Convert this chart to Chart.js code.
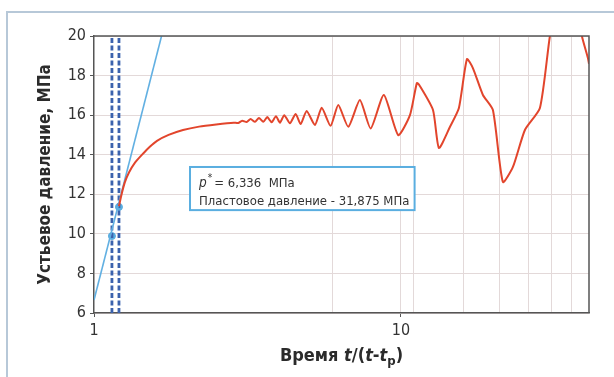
<!DOCTYPE html>
<html>
<head>
<meta charset="utf-8">
<script src="https://cdn.jsdelivr.net/npm/chart.js@4"></script>
<style>
  body { margin: 0; background: #fff; }
</style>
</head>
<body>
<canvas id="myChart" width="614" height="377"></canvas>
<script>
// устьевое давление vs время Хорнера
const timeX = [1.206, 1.23, 1.26, 1.30, 1.36, 1.444, 1.52, 1.604, 1.75, 1.95, 2.2, 2.5, 2.85, 2.95,
  3.04, 3.143, 3.238, 3.345, 3.447, 3.561, 3.669, 3.791, 3.916, 4.036, 4.168, 4.348, 4.54, 4.713,
  4.93, 5.247, 5.52, 5.90, 6.25, 6.74, 7.35, 7.97, 8.80, 9.80, 10.70, 11.27, 11.5, 12.72, 13.30,
  14.44, 15.45, 16.41, 17.16, 18.50, 19.94, 21.49, 23.17, 25.35, 28.37, 30.58, 32.5, 35, 37.5,
  38.87, 40.65, 41];
const pressure = [11.4, 12.0, 12.6, 13.1, 13.6, 14.05, 14.4, 14.7, 15.0, 15.25, 15.42, 15.53, 15.62, 15.60,
  15.72, 15.65, 15.80, 15.66, 15.86, 15.66, 15.90, 15.64, 15.95, 15.62, 16.0, 15.59, 16.06, 15.55,
  16.21, 15.50, 16.37, 15.46, 16.51, 15.41, 16.76, 15.33, 17.02, 14.99, 16.0, 17.62, 17.5, 16.26, 14.34,
  15.40, 16.36, 18.83, 18.38, 17.02, 16.26, 12.62, 13.38, 15.25, 16.36, 20.0, 22, 22.5, 21.5,
  20, 18.9, 18.6];

// касательная и точки
const tangentX = [1, 1.66];
const tangentY = [6.66, 20];
const markX = [1.144, 1.206];
const markY = [9.89, 11.36];

// оси
const xMin = 1, xMax = 41;
const yMin = 6, yMax = 20, yStep = 2;
const xGridValues = [1, 6, 10, 11, 16, 21, 26, 31, 36];
const xLabelValues = [1, 10];

const pStar = '6,336';
const plastP = '31,875';

const narrow = "'Liberation Sans Narrow', 'DejaVu Sans Condensed', sans-serif";

const zip = (xs, ys) => xs.map((x, i) => ({x: x, y: ys[i]}));

const dashSets = markX.map(x => ({
  data: [{x: x, y: yMin}, {x: x, y: yMax}],
  borderColor: '#3b62ad',
  borderWidth: 2.8,
  borderDash: [5, 2.5],
  pointRadius: 0,
  clip: 0
}));

const extras = {
  id: 'extras',
  beforeDraw(chart) {
    const c = chart.ctx;
    c.save();
    c.strokeStyle = '#b7c8d8';
    c.lineWidth = 2;
    c.beginPath();
    c.moveTo(7, 377);
    c.lineTo(7, 12);
    c.lineTo(614, 12);
    c.stroke();
    c.restore();
  },
  afterDatasetsDraw(chart) {
    const c = chart.ctx;
    const a = chart.chartArea;
    const xs = chart.scales.x, ys = chart.scales.y;
    c.save();
    // рамка области
    c.strokeStyle = '#555';
    c.lineWidth = 1.5;
    c.beginPath();
    c.moveTo(a.left, a.top);
    c.lineTo(a.right, a.top);
    c.lineTo(a.right, a.bottom);
    c.stroke();

    // подпись
    const bx = xs.getPixelForValue(2.055), bx2 = xs.getPixelForValue(11.08);
    const by = ys.getPixelForValue(13.38), by2 = ys.getPixelForValue(11.2);
    c.fillStyle = '#fff';
    c.fillRect(bx, by, bx2 - bx, by2 - by);
    c.strokeStyle = '#5aaee0';
    c.lineWidth = 2;
    c.strokeRect(bx, by, bx2 - bx, by2 - by);
    c.fillStyle = '#333';
    c.textBaseline = 'alphabetic';
    c.textAlign = 'left';
    let tx = bx + 9;
    c.font = 'italic 13.5px ' + narrow;
    c.fillText('p', tx, by + 20);
    tx += c.measureText('p').width + 1;
    c.font = '10px ' + narrow;
    c.fillText('*', tx, by + 14);
    tx += c.measureText('*').width + 2;
    c.font = '13px ' + narrow;
    c.fillText('= ' + pStar + '  МПа', tx, by + 20);
    c.fillText('Пластовое давление - ' + plastP + ' МПа', bx + 9, by + 38);

    // заголовок Y
    c.save();
    c.translate(46, (a.top + a.bottom) / 2);
    c.rotate(-Math.PI / 2);
    c.textAlign = 'center';
    c.textBaseline = 'middle';
    c.font = 'bold 17px ' + narrow;
    c.fillStyle = '#2b2b2b';
    c.fillText('Устьевое давление, МПа', 0, 0);
    c.restore();

    // заголовок X
    const parts = [
      ['Время ', 'bold 18px ', 0],
      ['t', 'italic bold 18px ', 0],
      ['/(', 'bold 18px ', 0],
      ['t', 'italic bold 18px ', 0],
      ['-', 'bold 18px ', 0],
      ['t', 'italic bold 18px ', 0],
      ['p', 'bold 13px ', 4],
      [')', 'bold 18px ', 0]
    ];
    let w = 0;
    parts.forEach(p => { c.font = p[1] + narrow; w += c.measureText(p[0]).width; });
    let px = (a.left + a.right) / 2 - w / 2;
    c.fillStyle = '#2b2b2b';
    parts.forEach(p => {
      c.font = p[1] + narrow;
      c.fillText(p[0], px, 361 + p[2]);
      px += c.measureText(p[0]).width;
    });
    c.restore();
  }
};

new Chart(document.getElementById('myChart'), {
  type: 'line',
  data: {
    datasets: [
      {
        data: zip(timeX, pressure),
        borderColor: '#e2452c',
        borderWidth: 2,
        pointRadius: 0,
        tension: 0.2,
        clip: 0
      },
      {
        data: zip(tangentX, tangentY),
        borderColor: '#62b0e2',
        borderWidth: 1.6,
        pointRadius: 0,
        clip: 0
      },
      ...dashSets,
      {
        data: zip(markX, markY),
        showLine: false,
        pointRadius: 3.5,
        pointBackgroundColor: '#5aaee0',
        pointBorderColor: '#5aaee0'
      }
    ]
  },
  options: {
    responsive: false,
    animation: false,
    layout: { padding: { left: 0, right: 25, top: 36, bottom: 0 } },
    plugins: { legend: { display: false }, tooltip: { enabled: false } },
    scales: {
      x: {
        type: 'logarithmic',
        min: xMin,
        max: xMax,
        afterBuildTicks: s => { s.ticks = xGridValues.map(v => ({value: v})); },
        afterFit: s => { s.height = 64; },
        ticks: {
          autoSkip: false,
          maxRotation: 0,
          padding: 4,
          color: '#333',
          font: { family: narrow, size: 16 },
          callback: v => xLabelValues.includes(v) ? String(v) : ''
        },
        grid: {
          color: ctx => ctx.tick && ctx.tick.value === 1 ? 'rgba(0,0,0,0)' : '#e3d9d9',
          tickLength: 4,
          tickColor: ctx => ctx.tick && xLabelValues.includes(ctx.tick.value) ? '#555' : 'rgba(0,0,0,0)'
        },
        border: { color: '#555', width: 1.5 }
      },
      y: {
        min: yMin,
        max: yMax,
        afterFit: s => { s.width = 94; },
        ticks: {
          stepSize: yStep,
          padding: 4,
          color: '#333',
          font: { family: narrow, size: 16 }
        },
        grid: {
          color: '#e3d9d9',
          tickLength: 4,
          tickColor: '#555'
        },
        border: { color: '#555', width: 1.5 }
      }
    }
  },
  plugins: [extras]
});
</script>
</body>
</html>
